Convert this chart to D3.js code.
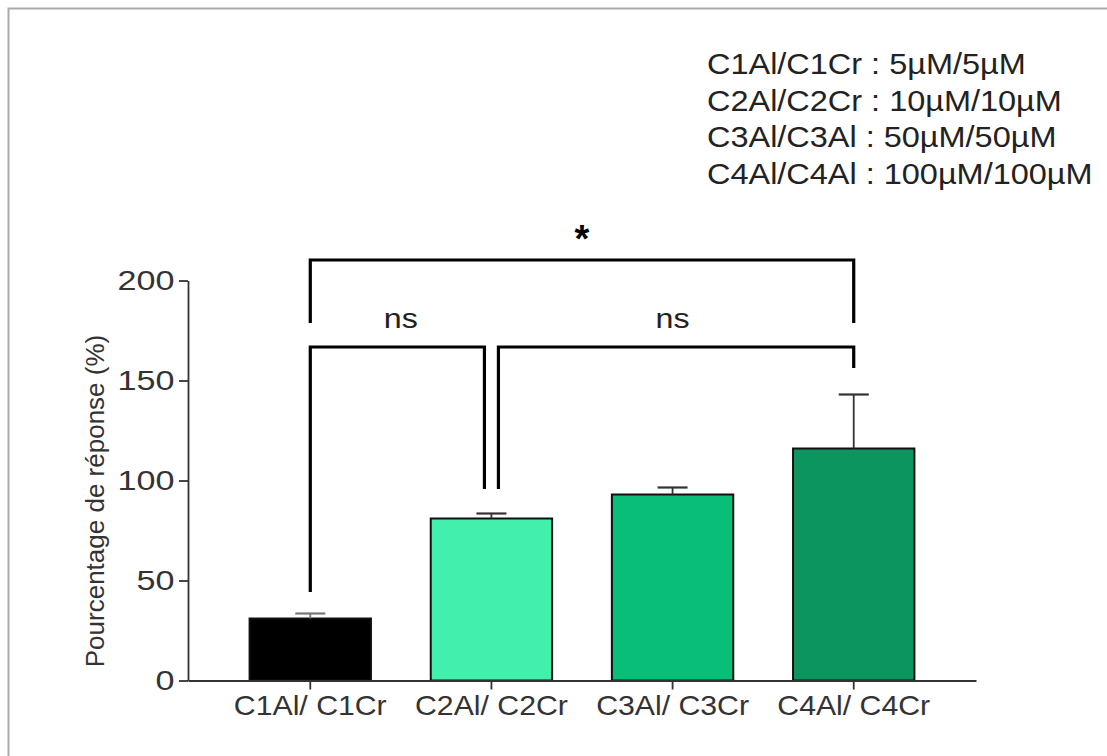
<!DOCTYPE html>
<html>
<head>
<meta charset="utf-8">
<script src="https://cdn.jsdelivr.net/npm/d3@7"></script>
<style>
  html, body { margin: 0; padding: 0; background: #fff; }
  svg { display: block; font-family: "Liberation Sans", Arial, sans-serif; }
</style>
</head>
<body>
<svg id="chart" width="1107" height="756"></svg>
<script>
// Groups, mean response and upper error (mean + SEM)
const categories = ["C1Al/ C1Cr", "C2Al/ C2Cr", "C3Al/ C3Cr", "C4Al/ C4Cr"];
const means = [31, 81, 93, 116];
const errors = [2.5, 2.5, 3.5, 27];
const barColors = ["#000000", "#43efac", "#07bf77", "#0c955f"];
const yTicks = [0, 50, 100, 150, 200];
const legendLines = [
  "C1Al/C1Cr : 5µM/5µM",
  "C2Al/C2Cr : 10µM/10µM",
  "C3Al/C3Al : 50µM/50µM",
  "C4Al/C4Al : 100µM/100µM"
];
// Pairwise comparisons: [from index, to index, label]
const comparisons = [
  [0, 3, "*"],
  [0, 1, "ns"],
  [1, 3, "ns"]
];

const svg = d3.select("#chart");

// Frame
svg.append("rect")
  .attr("x", 8.5).attr("y", 8.5)
  .attr("width", 1120).attr("height", 780)
  .attr("fill", "none").attr("stroke", "#aaaaaa").attr("stroke-width", 2);

const x = d3.scaleBand().domain(categories).range([188, 976])
  .paddingInner(0.33).paddingOuter(0.34);
const y = d3.scaleLinear().domain([0, 200]).range([680.5, 280.5]);

// Bars
svg.append("g").selectAll("rect")
  .data(categories)
  .join("rect")
  .attr("x", d => x(d))
  .attr("y", (d, i) => y(means[i]))
  .attr("width", x.bandwidth())
  .attr("height", (d, i) => y(0) - y(means[i]))
  .attr("fill", (d, i) => barColors[i])
  .attr("stroke", "#111").attr("stroke-width", 2);

// Error bars (upper only)
const eb = svg.append("g");
categories.forEach((c, i) => {
  const cx = x(c) + x.bandwidth() / 2;
  const top = y(means[i] + errors[i]);
  const col = i === 0 ? "#777" : "#333";
  eb.append("line").attr("x1", cx).attr("x2", cx)
    .attr("y1", y(means[i])).attr("y2", top)
    .attr("stroke", col).attr("stroke-width", 1.8);
  eb.append("line").attr("x1", cx - 15).attr("x2", cx + 15)
    .attr("y1", top).attr("y2", top)
    .attr("stroke", col).attr("stroke-width", 2.2);
});

// Y axis
const yAxis = svg.append("g")
  .attr("transform", "translate(188,0)")
  .call(d3.axisLeft(y).tickValues(yTicks).tickSize(9).tickPadding(2).tickSizeOuter(0));
yAxis.select(".domain").attr("stroke", "#333").attr("stroke-width", 1.8);
yAxis.selectAll(".tick line").attr("stroke", "#333").attr("stroke-width", 1.8);
yAxis.selectAll(".tick text")
  .attr("fill", "#333").attr("font-size", 28)
  .attr("font-family", "Liberation Sans, Arial, sans-serif")
  .attr("transform", "scale(1.22,1)");

// X axis
const xAxis = svg.append("g")
  .attr("transform", "translate(0,680.5)")
  .call(d3.axisBottom(x).tickSize(9).tickPadding(6).tickSizeOuter(0));
xAxis.select(".domain").attr("stroke", "#333").attr("stroke-width", 1.8);
xAxis.selectAll(".tick line").attr("stroke", "#333").attr("stroke-width", 1.8);
xAxis.selectAll(".tick text")
  .attr("fill", "#333").attr("font-size", 28)
  .attr("font-family", "Liberation Sans, Arial, sans-serif")
  .attr("transform", "scale(1.08,1)");

// Y axis title
svg.append("text")
  .attr("transform", "translate(104,501) rotate(-90)")
  .attr("text-anchor", "middle")
  .attr("fill", "#333").attr("font-size", 26)
  .text("Pourcentage de réponse (%)");

// Comparison brackets
const bx = i => x(categories[i]) + x.bandwidth() / 2;
const br = svg.append("g").attr("fill", "none").attr("stroke", "#000").attr("stroke-width", 3.2);
br.append("path").attr("d", d3.line()([[bx(0), 323], [bx(0), 260], [bx(3), 260], [bx(3), 323]]));
br.append("path").attr("d", d3.line()([[bx(0), 592], [bx(0), 347], [bx(1) - 7, 347], [bx(1) - 7, 489]]));
br.append("path").attr("d", d3.line()([[bx(1) + 7, 489], [bx(1) + 7, 347], [bx(3), 347], [bx(3), 368]]));

const labelY = [252, 328, 328];
const labelX = comparisons.map(c => (bx(c[0]) + bx(c[1])) / 2);
svg.append("g").selectAll("text")
  .data(comparisons)
  .join("text")
  .attr("transform", (d, i) => `translate(${labelX[i]},${labelY[i]}) scale(${i === 0 ? 1 : 1.15},1)`)
  .attr("text-anchor", "middle")
  .attr("font-size", (d, i) => i === 0 ? 38 : 28)
  .attr("font-weight", (d, i) => i === 0 ? "bold" : "normal")
  .attr("fill", (d, i) => i === 0 ? "#000" : "#222")
  .text(d => d[2]);

// Concentration legend
svg.append("g").selectAll("text")
  .data(legendLines)
  .join("text")
  .attr("transform", (d, i) => `translate(707,${74 + i * 36.7}) scale(1.12,1)`)
  .attr("font-size", 29)
  .attr("fill", "#222")
  .text(d => d);
</script>
</body>
</html>
